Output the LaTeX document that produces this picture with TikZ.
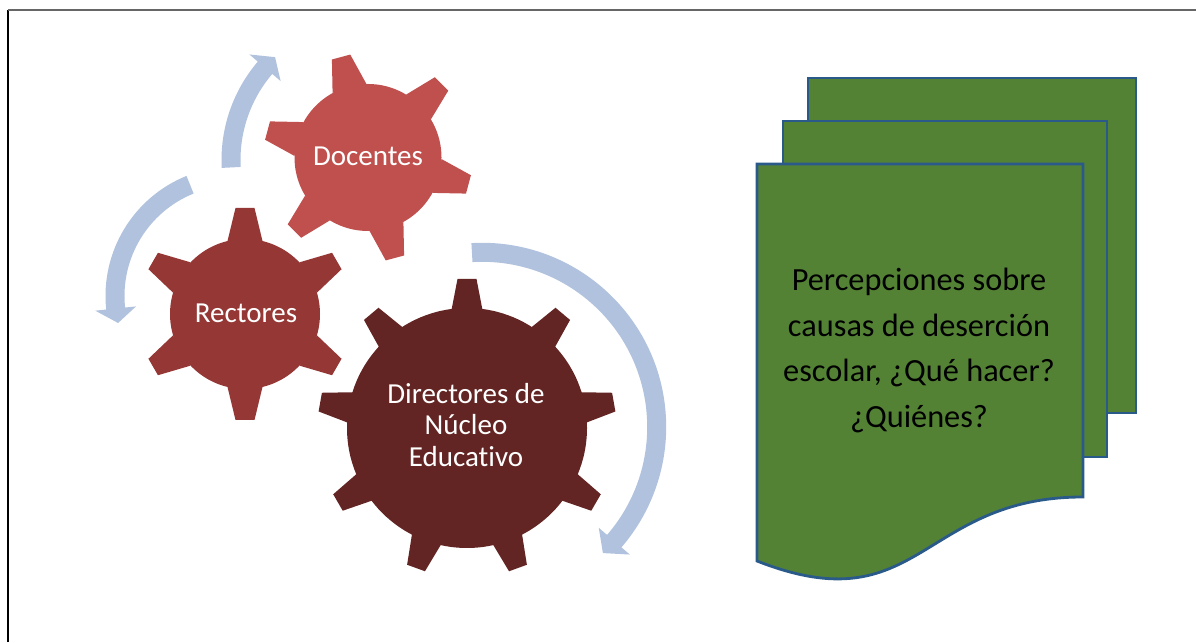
\documentclass[tikz,border=0pt]{standalone}
\usepackage{fontspec}
\setmainfont[Ligatures=NoCommon]{Carlito}
\definecolor{gearlight}{HTML}{C0504D}
\definecolor{gearmid}{HTML}{953735}
\definecolor{geardark}{HTML}{632523}
\definecolor{arrowblue}{HTML}{B0C2DD}
\definecolor{pagegreen}{HTML}{548235}
\definecolor{pageblue}{HTML}{2A5A8A}
% colour, centre, body radius : tip radius : base half width : angles
\def\gearwheel[#1](#2)(#3:#4:#5:#6){
	\fill[#1] (#2) circle (#3);
	\foreach \a in {#6} {
		\fill[#1, shift={(#2)}, rotate=\a] (#3-2, -#5) -- (#4, -9.5) -- (#4, 9.5) -- (#3-2, #5) -- cycle;
	}
}
% centre, radius : half width : start angle : end angle : tip angle
\def\bentarrow(#1)(#2:#3:#4:#5:#6){
	\fill[arrowblue, shift={(#1)}] (#4:#2+#3) arc[start angle=#4, end angle=#5, radius=#2+#3]
		-- (#5:#2+20.5) -- (#6:#2) -- (#5:#2-20.5) -- (#5:#2-#3)
		arc[start angle=#5, end angle=#4, radius=#2-#3] -- cycle;
}
\tikzset{
	geartext/.style={text=white, align=center, font=\fontsize{16.5}{18.1}\selectfont},
	pagetext/.style={text=black, align=center, font=\fontsize{18.4}{25.9}\selectfont},
	page/.style={fill=pagegreen, draw=pageblue, line width=1.6pt}
}

\begin{document}
\begin{tikzpicture}[x=0.02cm, y=0.02cm]
	\useasboundingbox (0, 0) rectangle (1196, 642);
	%%%%% frame %%%%%
	\draw[black, line width=0.8pt] (8, 0) -- (8, 632);
	\draw[black!60, line width=1pt] (8, 632) -- (1196, 632);

	%%%%% gears %%%%%
	\gearwheel[gearlight](368, 484.5)(73.5:104:17.5:105,45,-15,-75,-135,165)
	\gearwheel[gearmid](245, 328)(75:106:17.5:90,30,-30,-90,-150,150)
	\gearwheel[geardark](467, 214)(120:149:15.5:90,50,10,-30,-70,-110,-150,170,130)

	%%%%% arrows %%%%%
	\bentarrow(482, 215)(174.7:9.5:93.3:-40.8:-46.2)
	\bentarrow(235, 346)(120:9.5:112:186:193)
	\bentarrow(373, 482)(142:9.5:183:139.5:133.6)

	\node[geartext] (docentes) at (368, 486) {Docentes};
	\node[geartext] (rectores) at (246, 329) {Rectores};
	\node[geartext] (directores) at (466, 217) {Directores de\\Núcleo\\Educativo};

	%%%%% pages %%%%%
	\draw[page] (808, 564) rectangle (1136, 229);
	\draw[page] (783, 521) rectangle (1107, 185);
	\draw[page] (757, 478) -- (1083, 478) -- (1083, 145) .. controls (920, 145) and (920, 17) .. (757, 81) -- cycle;

	\node[pagetext] (percepciones) at (919, 291.5) {Percepciones sobre\\causas de deserción\\escolar, ¿Qué hacer?\\¿Quiénes?};
\end{tikzpicture}
\end{document}
